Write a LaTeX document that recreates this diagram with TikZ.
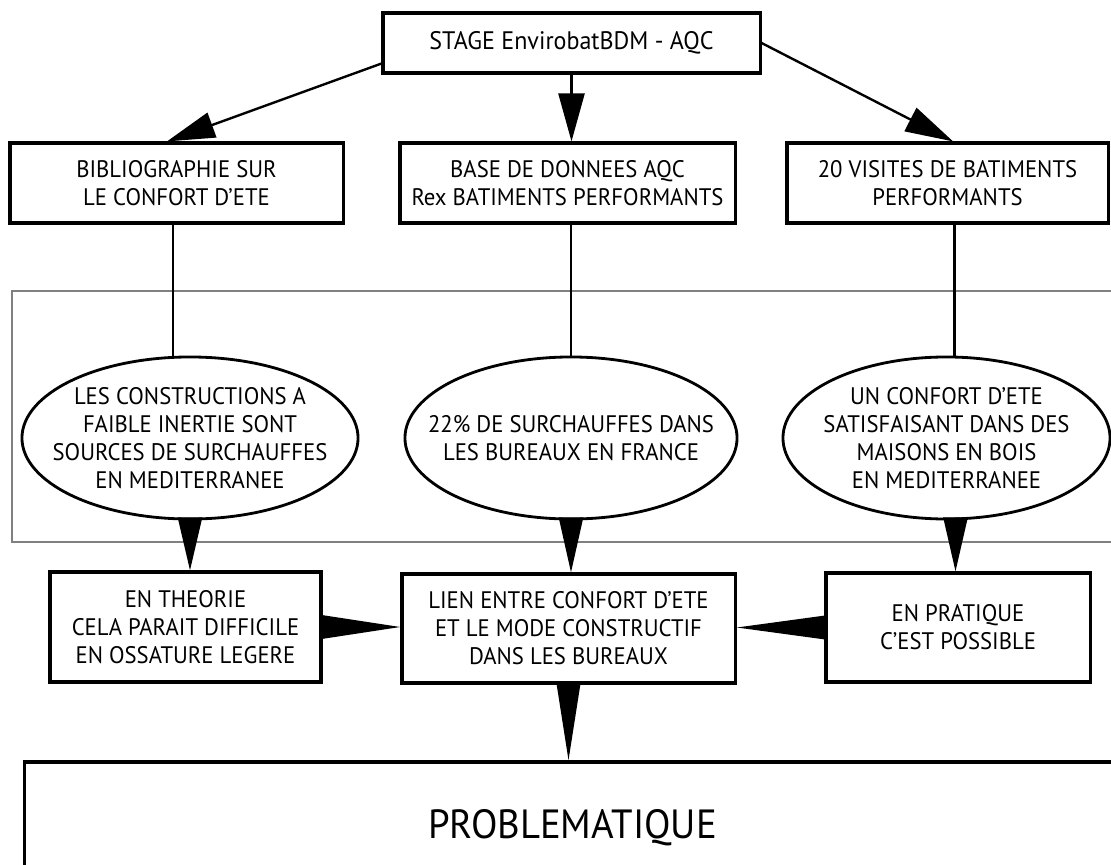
\documentclass[tikz,border=0pt]{standalone}
\usepackage{fontspec}
\setmainfont{PT Sans}[FakeStretch=0.95]
\usetikzlibrary{shapes.geometric,arrows.meta}

\tikzset{
  trait/.style = {line width=1.7pt},
  coin/.style = {trait, -{Triangle[length=#1, width=0.6cm]}}
}

\begin{document}
\begin{tikzpicture}[x=0.025cm, y=-0.025cm,
  main/.style = {draw, line width=2.2pt, inner sep=0pt, align=center, font=\fontsize{17}{20}\selectfont},
  bulle/.style = {main, line width=2pt, ellipse, inner xsep=-30pt, inner ysep=-10pt, minimum height=4.05cm},
  fleche/.style = {trait, -{Triangle[length=1.2cm, width=0.65cm]}}]
\clip (0,0) rectangle (1111,865);

% cadre gris
\draw[gray, line width=1.4pt] (12,291) rectangle (1130,542);

\node[main, minimum width=9.425cm, minimum height=1.5cm, font=\fontsize{18}{22}\selectfont] (1) at (571.5,43) {STAGE EnvirobatBDM - AQC};
\node[main, minimum width=8.325cm, minimum height=2cm] (2) at (176.5,183) {BIBLIOGRAPHIE SUR\\LE CONFORT D’ETE};
\node[main, minimum width=8.375cm, minimum height=2cm] (3) at (567.5,183) {BASE DE DONNEES AQC\\Rex BATIMENTS PERFORMANTS};
\node[main, minimum width=8.025cm, minimum height=2cm] (4) at (947.5,183) {20 VISITES DE BATIMENTS\\PERFORMANTS};

\node[bulle, minimum width=8.4cm] (5) at (190,438) {LES CONSTRUCTIONS A\\FAIBLE INERTIE SONT\\SOURCES DE SURCHAUFFES\\EN MEDITERRANEE};
\node[bulle, minimum width=8.3cm] (6) at (571,438) {22\% DE SURCHAUFFES DANS\\LES BUREAUX EN FRANCE};
\node[bulle, minimum width=8.175cm] (7) at (946.5,438) {UN CONFORT D’ETE\\SATISFAISANT DANS DES\\MAISONS EN BOIS\\EN MEDITERRANEE};

\node[main, minimum width=6.775cm, minimum height=2.75cm] (8) at (185.5,627) {EN THEORIE\\CELA PARAIT DIFFICILE\\EN OSSATURE LEGERE};
\node[main, minimum width=8.325cm, minimum height=2.725cm] (9) at (568.5,628.5) {LIEN ENTRE CONFORT D’ETE\\ET LE MODE CONSTRUCTIF\\DANS LES BUREAUX};
\node[main, minimum width=6.6cm, minimum height=2.725cm] (10) at (958,627.5) {EN PRATIQUE\\C’EST POSSIBLE};

\node[main, minimum width=27.375cm, minimum height=3.3cm, font=\fontsize{29}{33}\selectfont] (11) at (572.5,828) {PROBLEMATIQUE};

\draw[fleche] ([yshift=0.275cm]1.south west) -- ([xshift=-0.24cm]2.north);
\draw[fleche] (1.south) -- (1.south |- 3.north);
\draw[fleche] (1.east) -- ([xshift=0.14cm]4.north);

\draw[trait] ([xshift=-0.09cm]2.south) -- ([xshift=-0.09cm]2.south |- 5.north);
\draw[trait] (6.north |- 3.south) -- (6.north);
\draw[trait] ([xshift=0.2cm]7.north |- 4.south) -- ([xshift=0.2cm]7.north);

\draw[coin=1.325cm] (5.south) -- (5.south |- 8.north);
\draw[coin=1.375cm] (6.south) -- (6.south |- 9.north);
\draw[coin=1.35cm] ([xshift=0.225cm]7.south) -- ([xshift=0.225cm]7.south |- 10.north);
\draw[coin=2.025cm] (8.east) -- (8.east -| 9.west);
\draw[coin=2.275cm] (10.west) -- (10.west -| 9.east);
\draw[coin=1.975cm] (9.south) -- (9.south |- 11.north);
\end{tikzpicture}
\end{document}
